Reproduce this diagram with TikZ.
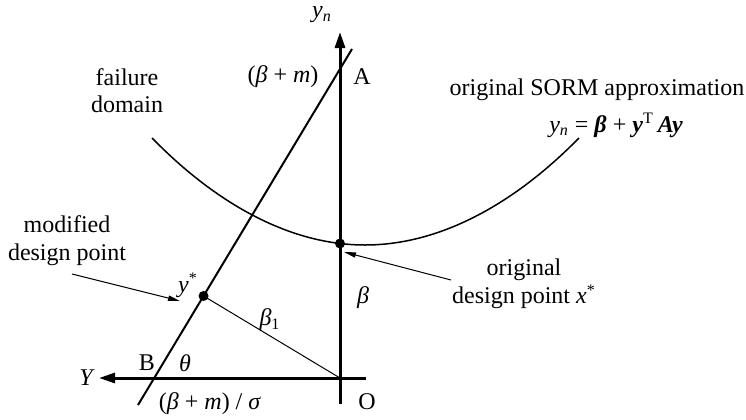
\documentclass[tikz,border=0pt]{standalone}
\usepackage{fontspec}
\setmainfont{Liberation Serif}
\usetikzlibrary{arrows.meta, calc}
\newcommand{\vi}[1]{\textit{#1}}
\newcommand{\vb}[1]{\textbf{\textit{#1}}}

\begin{document}
\begin{tikzpicture}[
    x=0.5pt, y=-0.5pt,
    font=\fontsize{12}{14}\selectfont,
    axis/.style={
        line width=1.5pt, -{Triangle[length=8pt, width=5pt]}
    },
    limitline/.style={
        line width=1pt
    },
    surface/.style={
        line width=0.75pt
    },
    radius/.style={
        line width=0.5pt
    },
    pointer/.style={
        line width=0.5pt, -{Triangle[length=6pt, width=2.6pt]}
    },
    lbl/.style={
        inner sep=1pt, align=center
    },
    dot/.style={
        circle, fill=black, inner sep=0pt, minimum size=5pt
    }
]
\useasboundingbox (0,0) rectangle (746,419);

% Axes
\coordinate (O) at (340,378);
\coordinate (axbot) at (340,404);
\coordinate (axtop) at (340,32);
\coordinate (axright) at (366,378);
\coordinate (axleft) at (99,378);
\draw[axis] (axbot) -- (axtop);
\draw[axis] (axright) -- (axleft);

% Line A-B
\coordinate (ABtop) at (352,49);
\coordinate (ABbot) at (138,405);
\draw[limitline] (ABbot) -- (ABtop);

% SORM surface
\draw[surface] (152,138) parabola bend (365,245) (579,138);

% Design points
\coordinate (xstar) at (340,243.5);
\coordinate (ystar) at ($(ABbot)!(O)!(ABtop)$);
\draw[radius] (O) -- (ystar);
\node[dot] (xdot) at (xstar) {};
\node[dot] (ydot) at (ystar) {};

% Labels
\node[lbl] (yn) at (322,15) {\vi{y}\textsubscript{\vi{n}}};
\node[lbl] (bm) at (283,77) {(\vi{β} + \vi{m})};
\node[lbl] (A) at (362,77) {A};
\node[lbl, font=\fontsize{12}{13.5}\selectfont] (fail) at (127,91) {failure\\domain};
\node[lbl] (sorm) at (597,90) {original SORM approximation};
\node[lbl] (eq) at (616,125) {\vi{y}\textsubscript{\vi{n}} = \vb{β} + \vb{y}\textsuperscript{T}\,\vb{Ay}};
\node[lbl] (mod) at (67,241) {modified\\design point};
\node[lbl] (ys) at (188,285) {\vi{y}\textsuperscript{*}};
\node[lbl] (b1) at (270,320) {\vi{β}\textsubscript{1}};
\node[lbl] (b) at (363,298) {\vi{β}};
\node[lbl] (B) at (147,363) {B};
\node[lbl] (th) at (185,363) {\vi{θ}};
\node[lbl] (Y) at (87,378) {\vi{Y}};
\node[lbl] (bms) at (210,404) {(\vi{β} + \vi{m}) / \vi{σ}};
\node[lbl] (Olbl) at (367,402) {O};
\node[lbl] (orig) at (524,284) {original\\design point \vi{x}\textsuperscript{*}};

% Pointers
\coordinate (modtail) at (72,274);
\coordinate (modtip) at (180,301);
\draw[pointer] (modtail) -- (modtip);
\coordinate (origtail) at (451,280);
\coordinate (origtip) at (344,252);
\draw[pointer] (origtail) -- (origtip);

\end{tikzpicture}
\end{document}
